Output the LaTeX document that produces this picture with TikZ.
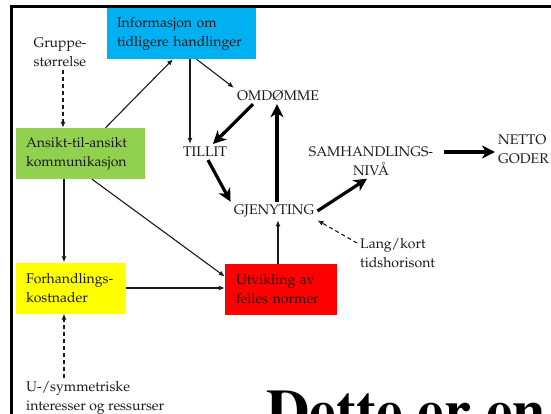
\documentclass[tikz,border=0pt]{standalone}
\usepackage[T1]{fontenc}
\usepackage{mathpazo}
\usepackage{xcolor}
\usepackage{tikz}
\usetikzlibrary{arrows.meta,positioning}
\definecolor{InfoBlue}{HTML}{00B0F0}
\definecolor{TalkGreen}{HTML}{92D050}
\definecolor{CostYellow}{HTML}{FFFF00}
\definecolor{NormRed}{HTML}{FF0000}
\definecolor{Ink}{HTML}{1A1A1A}

\begin{document}
\begin{tikzpicture}[x=1pt, y=-1pt,
  every node/.style={font=\fontsize{14}{19}\selectfont, text=Ink},
  box/.style={inner xsep=10pt, inner ysep=0pt, minimum height=51pt, align=left},
  label/.style={inner sep=3pt, align=left},
  arrow/.style={-{Latex[length=6pt,width=5pt]}, line width=1.1pt, draw=Ink},
  dasharrow/.style={arrow, dash pattern=on 4pt off 3pt},
  bigarrow/.style={-{Stealth[length=13pt,width=13pt,inset=4pt]}, line width=3.2pt, draw=black},
  frame/.style={line width=2.2pt, draw=black}
]
\useasboundingbox (0,0) rectangle (551,414);
\clip (0,0) rectangle (551,414);
\draw[frame] (11.5,430) -- (11.5,6.5) -- (570,6.5);

\node[box, fill=InfoBlue, text width=129pt] (info) at (181.5,33.5) {Informasjon om\\tidligere handlinger};
\node[box, fill=TalkGreen, text width=109pt] (talk) at (80.5,153.5) {Ansikt-til-ansikt\\kommunikasjon};
\node[box, fill=CostYellow, text width=90pt] (cost) at (71,288) {Forhandlings-\\kostnader};
\node[box, fill=NormRed, text width=90pt, inner xsep=11pt] (norms) at (281,289.5) {Utvikling av\\felles normer};

\node[label] (group) at (60,52) {Gruppe-\\st\o rrelse};
\node[label] (repute) at (278,96) {OMD\O MME};
\node[label] (trust) at (205,152) {TILLIT};
\node[label] (recip) at (274,211) {GJENYTING};
\node[label, align=center] (coop) at (371,161) {SAMHANDLINGS-\\NIV\AA};
\node[label, anchor=west] (net) at (495,149) {NETTO\\GODER};
\node[label, anchor=west] (horizon) at (357,253) {Lang/kort\\tidshorisont};
\node[label, anchor=west] (symm) at (23,398) {U-/symmetriske\\interesser og ressurser};

\node[inner sep=0pt, anchor=base west, text=black, font=\fontfamily{ptm}\fontseries{b}\fontsize{60}{62}\selectfont] (dette) at (266,431) {Dette er en};

\draw[dasharrow] ([xshift=3pt]group.south) -- ([xshift=3pt]group.south |- talk.north);
\draw[arrow] ([xshift=25pt]talk.north) -- ([xshift=-8.5pt]info.south);
\draw[arrow] ([xshift=8.5pt]info.south) -- ([xshift=8.5pt]info.south |- trust.north);
\draw[arrow] ([xshift=15pt]info.south) -- (repute.north west);
\draw[bigarrow] ([xshift=-25pt]repute.south) -- ([xshift=8pt]trust.north);
\draw[bigarrow] ([xshift=3pt]trust.south) -- (recip.north west);
\draw[bigarrow] ([xshift=3pt]recip.north) -- ([xshift=3pt]recip.north |- repute.south);
\draw[bigarrow] (recip.east) -- ([xshift=-4pt]coop.south);
\draw[bigarrow] ([xshift=8pt,yshift=9pt]coop.east) -- ([yshift=-3pt]net.west);
\draw[dasharrow] ([yshift=10pt]horizon.west) -- (recip.south east);
\draw[arrow] ([xshift=-3pt]norms.north) -- ([xshift=-3pt]norms.north |- recip.south);
\draw[arrow] ([xshift=-16.5pt]talk.south) -- ([xshift=-16.5pt]talk.south |- cost.north);
\draw[arrow] ([xshift=11.5pt]talk.south) -- ([yshift=13pt]norms.west);
\draw[arrow] (cost.east) -- (cost.east -| norms.west);
\draw[dasharrow] ([xshift=-7pt]cost.south |- symm.north) -- ([xshift=-7pt]cost.south);
\end{tikzpicture}
\end{document}
